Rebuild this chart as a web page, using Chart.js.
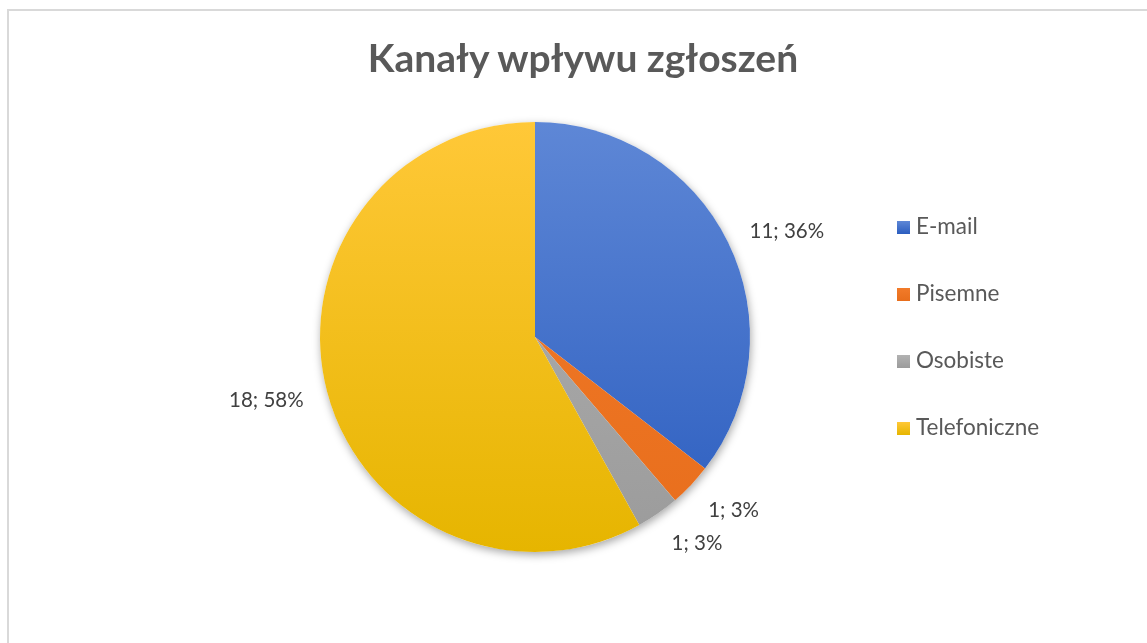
<!DOCTYPE html>
<html lang="pl">
<head>
<meta charset="utf-8">
<title>Kanały wpływu zgłoszeń</title>
<script src="https://cdn.jsdelivr.net/npm/chart.js@4.4.1/dist/chart.umd.min.js"></script>
<style>
  html, body { margin: 0; padding: 0; background: #fff; overflow: hidden; }
  #wrap { position: relative; width: 1147px; height: 643px; }
  #frame {
    position: absolute; left: 7px; top: 9px; width: 1200px; height: 700px;
    border: 2px solid #d9d9d9; box-sizing: border-box; pointer-events: none;
  }
  #channels-chart { position: absolute; left: 0; top: 0; }
  #channels-chart-title {
    position: absolute; left: 283px; width: 600px; top: 34px; text-align: center;
    font-family: Lato, "Noto Sans", sans-serif; font-weight: bold; font-size: 39px;
    line-height: 46px; color: #595959; white-space: nowrap;
  }
  #channels-chart-legend ul { list-style: none; margin: 0; padding: 0; }
  #channels-chart-legend {
    position: absolute; left: 897px; top: 212px;
    font-family: Lato, "Noto Sans", sans-serif; font-size: 22.5px; color: #595959;
  }
  #channels-chart-legend li { height: 67px; line-height: 28px; white-space: nowrap; }
  #channels-chart-legend span {
    display: inline-block; width: 13px; height: 13px; margin-right: 6px;
    vertical-align: 0px;
  }
</style>
</head>
<body>
<div id="wrap">
  <canvas id="channels-chart" width="1147" height="643"></canvas>
  <div id="channels-chart-title">Kanały wpływu zgłoszeń</div>
  <div id="channels-chart-legend"></div>
  <div id="frame"></div>
</div>
<script>
  const channelLabels = ['E-mail', 'Pisemne', 'Osobiste', 'Telefoniczne'];
  const channelCounts = [11, 1, 1, 18];
  // percentages as printed on the chart (Excel rounding, sums to 100)
  const channelPercents = ['36%', '3%', '3%', '58%'];
  // top / bottom colour of each slice gradient
  const colorsTop = ['#5e87d6', '#f27b2a', '#b2b2b2', '#ffc838'];
  const colorsBottom = ['#2b5dbf', '#e86e1c', '#9b9b9b', '#e6b500'];
  const legendColors = ['#3c68c6', '#ed7325', '#a5a5a5', '#ffc000'];

  function sliceGradient(context) {
    const chart = context.chart;
    const area = chart.chartArea;
    const i = context.dataIndex;
    if (!area) return legendColors[i];
    const g = chart.ctx.createLinearGradient(0, area.top, 0, area.bottom);
    g.addColorStop(0, colorsTop[i]);
    g.addColorStop(1, colorsBottom[i]);
    return g;
  }

  // soft shadow under the pie
  const pieShadow = {
    id: 'pieShadow',
    beforeDatasetsDraw(chart) {
      const arc = chart.getDatasetMeta(0).data[0];
      if (!arc) return;
      const ctx = chart.ctx;
      ctx.save();
      ctx.shadowColor = 'rgba(0, 0, 0, 0.35)';
      ctx.shadowBlur = 9;
      ctx.shadowOffsetX = 1;
      ctx.shadowOffsetY = 3;
      ctx.fillStyle = '#ffffff';
      ctx.beginPath();
      ctx.arc(arc.x, arc.y, arc.outerRadius, 0, Math.PI * 2);
      ctx.fill();
      ctx.restore();
    }
  };

  // "value; percent" labels outside the slices
  const outsideLabels = {
    id: 'outsideLabels',
    afterDatasetsDraw(chart) {
      const ctx = chart.ctx;
      const data = chart.data.datasets[0].data;
      ctx.save();
      ctx.font = '20.5px Lato, "Noto Sans", sans-serif';
      ctx.fillStyle = '#404040';
      ctx.textBaseline = 'middle';
      chart.getDatasetMeta(0).data.forEach(function (arc, i) {
        const mid = (arc.startAngle + arc.endAngle) / 2;
        const r = arc.outerRadius + 24;
        const cos = Math.cos(mid), sin = Math.sin(mid);
        const px = arc.x + cos * r;
        const py = arc.y + sin * r + 13 * Math.max(sin, 0);
        ctx.textAlign = cos >= 0 ? 'left' : 'right';
        ctx.fillText(data[i] + '; ' + channelPercents[i], px, py);
      });
      ctx.restore();
    }
  };

  const ctx = document.getElementById('channels-chart');
  new Chart(ctx, {
    type: 'pie',
    data: {
      labels: channelLabels,
      datasets: [{
        data: channelCounts,
        backgroundColor: sliceGradient,
        hoverBackgroundColor: sliceGradient,
        borderWidth: 0
      }]
    },
    options: {
      responsive: false,
      animation: false,
      layout: {
        padding: { top: 122, bottom: 91, left: 320, right: 397 }
      },
      plugins: {
        legend: { display: false },
        tooltip: { enabled: false },
        title: { display: false }
      }
    },
    plugins: [pieShadow, outsideLabels]
  });

  const ul = document.createElement('ul');
  for (let i = 0; i < channelLabels.length; i++) {
    ul.innerHTML += `
      <li>
        <span style="background: linear-gradient(${colorsTop[i]}, ${colorsBottom[i]})"></span>${channelLabels[i]}
      </li>
    `;
  }
  document.getElementById('channels-chart-legend').appendChild(ul);
</script>
</body>
</html>
